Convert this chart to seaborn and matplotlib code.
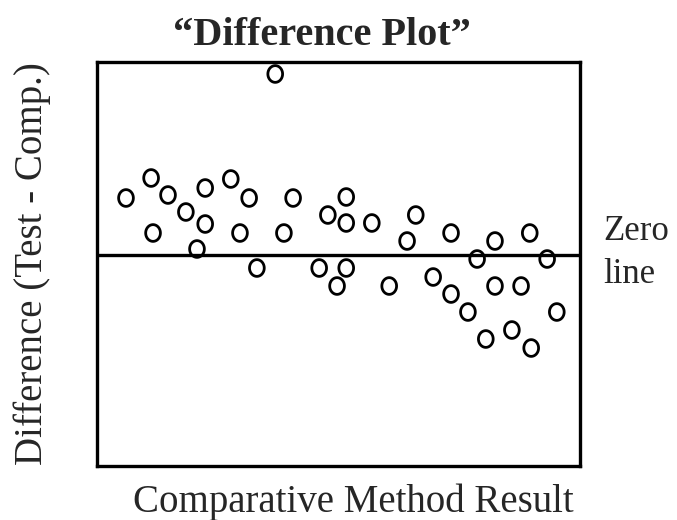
import numpy as np
import pandas as pd
import seaborn as sns
import matplotlib.pyplot as plt
from matplotlib.path import Path

# comparative method result (x) and test - comparative difference (y)
comp_result = [6.0, 11.2, 11.6, 14.7, 18.4, 20.7, 22.4, 22.4, 27.7, 29.6,
               31.5, 33.1, 36.9, 38.7, 40.6, 46.0, 47.8, 49.7, 51.6, 51.6,
               51.6, 56.9, 60.5, 64.2, 66.0, 69.6, 73.3, 73.3, 76.8, 78.7,
               80.5, 82.4, 82.4, 85.9, 87.8, 89.6, 89.9, 93.2, 95.2]
difference = [5.7, 7.7, 2.2, 6.0, 4.3, 0.6, 6.7, 3.1, 7.6, 2.2,
              5.7, -1.3, 18.1, 2.2, 5.7, -1.3, 4.0, -3.1, 5.8, 3.2,
              -1.3, 3.2, -3.1, 1.4, 4.0, -2.2, 2.2, -3.9, -5.7, -0.4,
              -8.4, 1.4, -3.1, -7.5, -3.1, 2.2, -9.3, -0.4, -5.7]

data = pd.DataFrame({'Comparative': comp_result, 'Difference': difference})

sns.set_style('white')
plt.rcParams['font.family'] = ['Liberation Serif', 'DejaVu Serif']

fig = plt.figure(figsize=(6.77, 5.2), dpi=100)
ax = fig.add_axes([0.1433, 0.1038, 0.7134, 0.777])

# slightly tall open ellipse, like a letter "o"
t = np.linspace(0, 2 * np.pi, 60)
oval = Path(np.column_stack([0.88 * np.cos(t), np.sin(t)]), closed=True)

sns.scatterplot(data=data, x='Comparative', y='Difference', ax=ax,
                marker=oval, s=145, facecolor='none', edgecolor='black',
                linewidth=2.0, zorder=3)

ax.axhline(0, color='black', lw=2.4, zorder=2)

ax.set_xlim(0, 100)
ax.set_ylim(-21.1, 19.3)
ax.set_xticks([])
ax.set_yticks([])
ax.set_xlabel('')
ax.set_ylabel('')
for sp in ax.spines.values():
    sp.set_visible(True)
    sp.set_color('black')
    sp.set_linewidth(2.4)

fig.text(0.476, 0.9135, '\u201cDifference Plot\u201d', ha='center', va='baseline',
         fontsize=29, fontweight='bold')
fig.text(0.522, 0.0154, 'Comparative Method Result', ha='center', va='baseline',
         fontsize=28)
fig.text(0.047, 0.493, 'Difference (Test - Comp.)', ha='center', va='center',
         rotation=90, fontsize=28)
fig.text(0.8907, 0.5385, 'Zero', ha='left', va='baseline', fontsize=25)
fig.text(0.8907, 0.4558, 'line', ha='left', va='baseline', fontsize=25)

plt.savefig('out.png', dpi=100)
